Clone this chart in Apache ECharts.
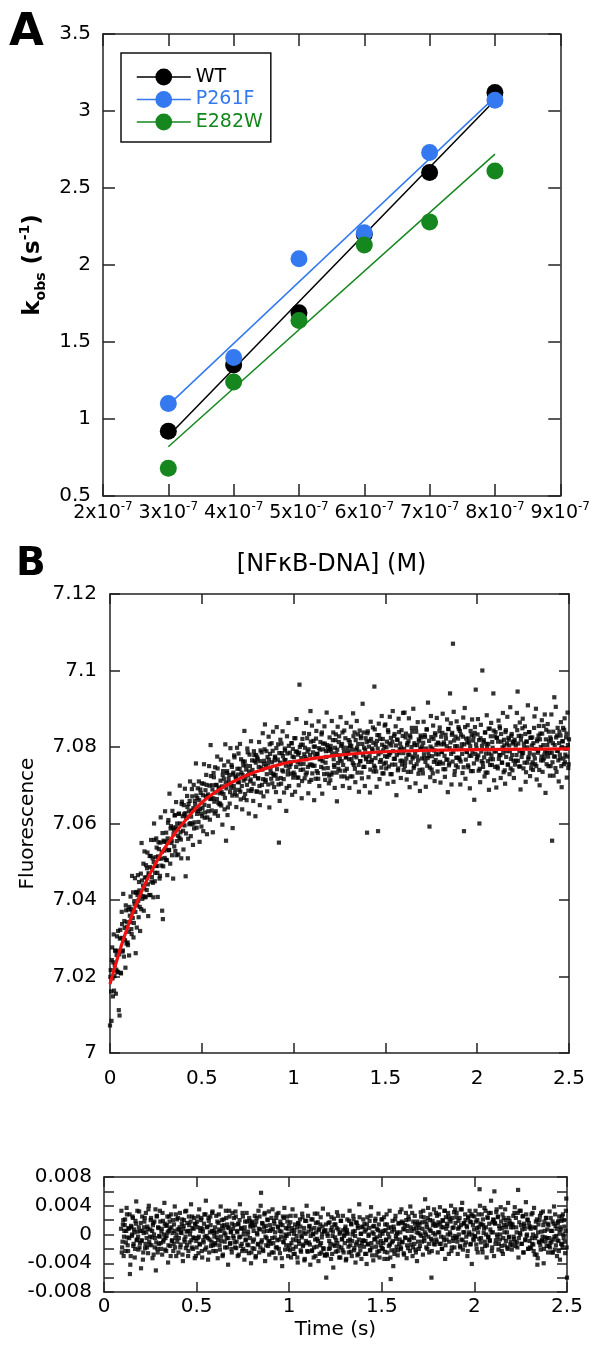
<!DOCTYPE html>
<html><head><meta charset="utf-8">
<script src="https://cdn.jsdelivr.net/npm/echarts@6/dist/echarts.min.js"></script>
<style>html,body{margin:0;padding:0;background:#fff}#c{width:593px;height:1345px}</style>
</head><body><div id="c"></div>
<script>
const FONT = 'DejaVu Sans';
const AX = '#222';
const BLUE = '#3479f0';
const GREEN = '#16871e';

// ---------- Panel A ----------
const concentrations = [3e-7, 4e-7, 5e-7, 6e-7, 7e-7, 8e-7];
const kobsWT    = [0.92, 1.35, 1.69, 2.20, 2.60, 3.12];
const kobsP261F = [1.10, 1.40, 2.04, 2.21, 2.73, 3.07];
const kobsE282W = [0.68, 1.24, 1.64, 2.13, 2.28, 2.61];
const fitConc   = [3e-7, 8e-7];
const fitWT     = [0.89, 3.07];
const fitP261F  = [1.09, 3.09];
const fitE282W  = [0.82, 2.72];

// ---------- Panel B : samples every SAMPLE_DT s from t = 0 ----------
const SAMPLE_DT = 0.004;
const fluorescence = [
7.0072,7.0217,7.0084,7.0276,7.0148,7.0310,7.0201,7.0268,7.0155,7.0256,7.0213,7.0319,7.0112,7.0098,7.0322,7.0208,7.0369,7.0265,7.0416,7.0252,7.0327,7.0223,7.0373,7.0329,7.0289,
7.0375,7.0255,7.0359,7.0409,7.0324,7.0463,7.0353,7.0302,7.0397,7.0457,7.0261,7.0421,7.0386,7.0465,7.0355,7.0425,7.0319,7.0469,7.0549,7.0403,7.0438,7.0372,7.0527,7.0407,7.0491,
7.0426,7.0524,7.0358,7.0466,7.0515,7.0413,7.0557,7.0460,7.0509,7.0407,7.0600,7.0449,7.0512,7.0561,7.0489,7.0408,7.0551,7.0509,7.0463,7.0616,7.0490,7.0372,7.0350,7.0555,7.0529,
7.0632,7.0505,7.0552,7.0465,7.0602,7.0530,7.0678,7.0495,7.0593,7.0555,7.0633,7.0456,7.0583,7.0621,7.0528,7.0656,7.0554,7.0586,7.0519,7.0626,7.0699,7.0577,7.0509,7.0657,7.0619,
7.0532,7.0624,7.0691,7.0462,7.0615,7.0672,7.0509,7.0651,7.0598,7.0710,7.0567,7.0634,7.0671,7.0544,7.0701,7.0603,7.0650,7.0757,7.0589,7.0666,7.0633,7.0710,7.0552,7.0689,7.0626,
7.0705,7.0640,7.0580,7.0755,7.0615,7.0687,7.0727,7.0572,7.0672,7.0632,7.0750,7.0610,7.0805,7.0665,7.0700,7.0577,7.0732,7.0657,7.0747,7.0632,7.0700,7.0775,7.0620,7.0690,7.0650,
7.0652,7.0767,7.0682,7.0597,7.0737,7.0717,7.0637,7.0807,7.0555,7.0732,7.0622,7.0762,7.0707,7.0652,7.0797,7.0693,7.0748,7.0588,7.0733,7.0778,7.0678,7.0723,7.0643,7.0798,7.0708,
7.0783,7.0688,7.0808,7.0663,7.0733,7.0637,7.0762,7.0712,7.0842,7.0677,7.0751,7.0661,7.0796,7.0726,7.0626,7.0780,7.0710,7.0815,7.0690,7.0740,7.0659,7.0789,7.0764,7.0619,7.0779,
7.0683,7.0768,7.0718,7.0813,7.0648,7.0791,7.0746,7.0701,7.0836,7.0671,7.0764,7.0859,7.0714,7.0789,7.0684,7.0757,7.0827,7.0642,7.0782,7.0732,7.0810,7.0705,7.0840,7.0725,7.0765,
7.0772,7.0682,7.0852,7.0717,7.0807,7.0550,7.0659,7.0819,7.0704,7.0784,7.0841,7.0736,7.0681,7.0796,7.0766,7.0633,7.0828,7.0728,7.0863,7.0698,7.0785,7.0755,7.0810,7.0675,7.0795,
7.0733,7.0823,7.0683,7.0788,7.0873,7.0720,7.0780,7.0700,7.0963,7.0755,7.0806,7.0666,7.0821,7.0741,7.0836,7.0718,7.0773,7.0863,7.0733,7.0788,7.0679,7.0834,7.0754,7.0894,7.0714,
7.0856,7.0751,7.0816,7.0661,7.0801,7.0717,7.0842,7.0782,7.0732,7.0867,7.0698,7.0793,7.0768,7.0833,7.0678,7.0809,7.0744,7.0854,7.0714,7.0789,7.0890,7.0730,7.0800,7.0705,7.0825,
7.0713,7.0793,7.0868,7.0733,7.0838,7.0753,7.0693,7.0818,7.0783,7.0658,7.0853,7.0743,7.0828,7.0768,7.0878,7.0723,7.0808,7.0698,7.0798,7.0843,7.0738,7.0773,7.0863,7.0718,7.0788,
7.0818,7.0693,7.0803,7.0853,7.0768,7.0723,7.0888,7.0753,7.0838,7.0708,7.0793,7.0868,7.0733,7.0808,7.0683,7.0843,7.0763,7.0828,7.0718,7.0913,7.0748,7.0798,7.0698,7.0823,7.0773,
7.0576,7.0841,7.0721,7.0816,7.0681,7.0866,7.0761,7.0796,7.0851,7.0736,7.0958,7.0746,7.0806,7.0696,7.0831,7.0580,7.0861,7.0716,7.0821,7.0766,7.0881,7.0731,7.0791,7.0756,7.0856,
7.0859,7.0744,7.0814,7.0704,7.0839,7.0779,7.0879,7.0729,7.0804,7.0754,7.0894,7.0709,7.0829,7.0769,7.0854,7.0674,7.0819,7.0739,7.0874,7.0784,7.0809,7.0719,7.0844,7.0764,7.0889,
7.0740,7.0890,7.0760,7.0835,7.0715,7.0810,7.0780,7.0875,7.0695,7.0825,7.0735,7.0850,7.0770,7.0900,7.0750,7.0805,7.0705,7.0840,7.0775,7.0865,7.0730,7.0815,7.0685,7.0830,7.0795,
7.0801,7.0731,7.0866,7.0771,7.0826,7.0696,7.0846,7.0751,7.0916,7.0776,7.0592,7.0721,7.0881,7.0741,7.0796,7.0856,7.0761,7.0711,7.0831,7.0781,7.0876,7.0736,7.0811,7.0756,7.0851,
7.0707,7.0827,7.0787,7.0887,7.0742,7.0807,7.0722,7.0832,7.0767,7.0872,7.0682,7.0847,7.0757,7.0940,7.0862,7.0702,7.0837,7.1070,7.0892,7.0727,7.0802,7.0752,7.0867,7.0772,7.0822,
7.0847,7.0767,7.0702,7.0832,7.0807,7.0732,7.0877,7.0580,7.0902,7.0717,7.0822,7.0787,7.0857,7.0747,7.0812,7.0692,7.0842,7.0777,7.0872,7.0737,7.0827,7.0662,7.0852,7.0950,7.0797,
7.0773,7.0873,7.0738,7.0600,7.0708,7.0858,7.0763,7.1000,7.0748,7.0818,7.0723,7.0838,7.0783,7.0883,7.0733,7.0808,7.0688,7.0848,7.0768,7.0863,7.0753,7.0798,7.0940,7.0713,7.0828,
7.0839,7.0694,7.0824,7.0744,7.0869,7.0779,7.0849,7.0719,7.0814,7.0759,7.0889,7.0734,7.0804,7.0704,7.0844,7.0789,7.0879,7.0754,7.0819,7.0729,7.0904,7.0769,7.0834,7.0739,7.0809,
7.0719,7.0819,7.0854,7.0764,7.0889,7.0945,7.0809,7.0749,7.0864,7.0689,7.0829,7.0784,7.0874,7.0744,7.0799,7.0854,7.0709,7.0814,7.0759,7.0909,7.0774,7.0839,7.0724,7.0824,7.0754,
7.0825,7.0740,7.0780,7.0880,7.0755,7.0900,7.0715,7.0820,7.0790,7.0855,7.0700,7.0835,7.0765,7.0870,7.0735,7.0805,7.0770,7.0885,7.0680,7.0845,7.0785,7.0860,7.0750,7.0815,7.0725,
7.0750,7.0885,7.0555,7.0810,7.0725,7.0930,7.0775,7.0905,7.0735,7.0830,7.0790,7.0710,7.0840,7.0770,7.0865,7.0695,7.0815,7.0850,7.0755,7.0875,7.0780,7.0825,7.0720,7.0890,7.0745,
7.0820
];
// samples half way between the ones above: t = (i + 0.5) * SAMPLE_DT
const fluorescenceMid = [
7.0199,7.0161,7.0243,7.0195,7.0237,7.0163,7.0230,7.0267,7.0218,7.0305,7.0211,7.0267,7.0258,7.0299,7.0210,7.0301,7.0337,7.0268,7.0299,7.0345,7.0295,7.0386,7.0286,7.0342,7.0282,
7.0317,7.0382,7.0342,7.0376,7.0311,7.0370,7.0420,7.0340,7.0389,7.0369,7.0419,7.0328,7.0413,7.0398,7.0447,7.0382,7.0417,7.0376,7.0451,7.0410,7.0495,7.0430,7.0459,7.0409,7.0459,
7.0483,7.0441,7.0470,7.0413,7.0486,7.0515,7.0448,7.0482,7.0445,7.0499,7.0557,7.0471,7.0489,7.0537,7.0471,7.0514,7.0533,7.0456,7.0550,7.0508,7.0526,7.0575,7.0488,7.0552,7.0510,
7.0533,7.0576,7.0504,7.0561,7.0609,7.0531,7.0554,7.0587,7.0549,7.0517,7.0589,7.0572,7.0540,7.0622,7.0590,7.0517,7.0600,7.0568,7.0625,7.0563,7.0600,7.0558,7.0651,7.0598,7.0581,
7.0648,7.0595,7.0627,7.0574,7.0616,7.0643,7.0560,7.0632,7.0659,7.0601,7.0618,7.0690,7.0598,7.0640,7.0587,7.0659,7.0636,7.0673,7.0625,7.0692,7.0604,7.0661,7.0638,7.0680,7.0592,
7.0619,7.0674,7.0704,7.0649,7.0629,7.0671,7.0701,7.0616,7.0676,7.0646,7.0699,7.0664,7.0724,7.0634,7.0689,7.0666,7.0721,7.0626,7.0681,7.0701,7.0664,7.0744,7.0654,7.0694,7.0679,
7.0712,7.0647,7.0697,7.0727,7.0677,7.0752,7.0667,7.0707,7.0692,7.0737,7.0642,7.0717,7.0727,7.0682,7.0702,7.0753,7.0673,7.0728,7.0698,7.0773,7.0688,7.0718,7.0673,7.0743,7.0728,
7.0708,7.0743,7.0683,7.0768,7.0698,7.0727,7.0752,7.0667,7.0762,7.0717,7.0741,7.0701,7.0786,7.0686,7.0736,7.0750,7.0715,7.0685,7.0765,7.0730,7.0704,7.0779,7.0724,7.0759,7.0684,
7.0773,7.0718,7.0748,7.0698,7.0763,7.0681,7.0786,7.0741,7.0716,7.0756,7.0794,7.0709,7.0749,7.0729,7.0774,7.0702,7.0767,7.0807,7.0742,7.0717,7.0760,7.0790,7.0730,7.0695,7.0775,
7.0727,7.0797,7.0742,7.0767,7.0702,7.0784,7.0759,7.0719,7.0809,7.0739,7.0776,7.0716,7.0766,7.0791,7.0751,7.0693,7.0783,7.0738,7.0803,7.0748,7.0760,7.0730,7.0810,7.0775,7.0720,
7.0773,7.0728,7.0823,7.0748,7.0788,7.0760,7.0720,7.0785,7.0800,7.0740,7.0771,7.0711,7.0806,7.0756,7.0781,7.0798,7.0728,7.0768,7.0823,7.0748,7.0794,7.0709,7.0779,7.0814,7.0754,
7.0731,7.0786,7.0801,7.0751,7.0776,7.0822,7.0737,7.0782,7.0717,7.0797,7.0768,7.0813,7.0748,7.0838,7.0763,7.0794,7.0729,7.0809,7.0759,7.0774,7.0805,7.0745,7.0790,7.0725,7.0795,
7.0803,7.0728,7.0783,7.0818,7.0768,7.0748,7.0798,7.0833,7.0733,7.0793,7.0758,7.0813,7.0778,7.0738,7.0803,7.0763,7.0838,7.0753,7.0788,7.0723,7.0823,7.0773,7.0743,7.0798,7.0783,
7.0768,7.0813,7.0723,7.0803,7.0793,7.0758,7.0828,7.0778,7.0743,7.0818,7.0773,7.0798,7.0833,7.0753,7.0788,7.0763,7.0823,7.0733,7.0808,7.0778,7.0838,7.0748,7.0793,7.0768,7.0813,
7.0836,7.0761,7.0801,7.0776,7.0741,7.0821,7.0766,7.0791,7.0811,7.0751,7.0846,7.0771,7.0736,7.0816,7.0796,7.0781,7.0831,7.0761,7.0786,7.0746,7.0806,7.0821,7.0731,7.0801,7.0776,
7.0759,7.0799,7.0774,7.0844,7.0749,7.0809,7.0784,7.0824,7.0729,7.0814,7.0789,7.0769,7.0834,7.0754,7.0804,7.0779,7.0819,7.0744,7.0839,7.0794,7.0764,7.0799,7.0754,7.0829,7.0784,
7.0795,7.0750,7.0825,7.0770,7.0805,7.0735,7.0815,7.0780,7.0830,7.0760,7.0800,7.0840,7.0775,7.0745,7.0810,7.0785,7.0850,7.0755,7.0805,7.0765,7.0820,7.0740,7.0795,7.0825,7.0770,
7.0741,7.0811,7.0781,7.0831,7.0761,7.0796,7.0846,7.0771,7.0786,7.0816,7.0746,7.0801,7.0826,7.0776,7.0731,7.0821,7.0791,7.0836,7.0766,7.0806,7.0756,7.0811,7.0781,7.0841,7.0761,
7.0807,7.0787,7.0837,7.0757,7.0812,7.0777,7.0742,7.0822,7.0802,7.0767,7.0847,7.0752,7.0797,7.0812,7.0782,7.0832,7.0762,7.0787,7.0817,7.0737,7.0827,7.0772,7.0802,7.0747,7.0852,
7.0772,7.0842,7.0762,7.0797,7.0782,7.0827,7.0747,7.0807,7.0852,7.0767,7.0787,7.0812,7.0752,7.0822,7.0777,7.0802,7.0737,7.0832,7.0787,7.0817,7.0757,7.0837,7.0782,7.0807,7.0767,
7.0833,7.0778,7.0818,7.0743,7.0823,7.0788,7.0803,7.0758,7.0813,7.0773,7.0838,7.0733,7.0808,7.0798,7.0763,7.0848,7.0783,7.0753,7.0828,7.0778,7.0813,7.0768,7.0843,7.0788,7.0748,
7.0789,7.0824,7.0749,7.0814,7.0769,7.0854,7.0779,7.0834,7.0759,7.0799,7.0784,7.0819,7.0739,7.0839,7.0774,7.0809,7.0754,7.0824,7.0804,7.0789,7.0744,7.0829,7.0779,7.0814,7.0764,
7.0814,7.0754,7.0804,7.0779,7.0844,7.0764,7.0829,7.0789,7.0749,7.0819,7.0774,7.0849,7.0784,7.0809,7.0759,7.0834,7.0734,7.0814,7.0799,7.0769,7.0839,7.0784,7.0824,7.0744,7.0804,
7.0760,7.0810,7.0850,7.0770,7.0795,7.0750,7.0815,7.0785,7.0830,7.0740,7.0820,7.0800,7.0775,7.0835,7.0765,7.0855,7.0780,7.0790,7.0820,7.0755,7.0805,7.0775,7.0840,7.0785,7.0825,
7.0820,7.0785,7.0760,7.0840,7.0775,7.0805,7.0745,7.0825,7.0790,7.0850,7.0765,7.0810,7.0780,7.0830,7.0750,7.0800,7.0815,7.0770,7.0845,7.0760,7.0795,7.0835,7.0775,7.0805,7.0755
];
// red fitted curve
const fitTime  = [0, 0.05, 0.1, 0.15, 0.2, 0.25, 0.3, 0.35, 0.4, 0.5, 0.6, 0.7, 0.8, 0.9, 1.0, 1.2, 1.4, 1.7, 2.0, 2.5];
const fitFluor = [7.018, 7.0263, 7.0335, 7.0397, 7.0451, 7.0497, 7.0537, 7.0572, 7.0602, 7.0655, 7.069, 7.0716, 7.0736, 7.0751, 7.0762, 7.0776, 7.0785, 7.0791, 7.0793, 7.0795];

// ---------- Residuals: same sampling, starting at sample RESID_START ----------
const RESID_START = 23;
const residuals = [
0.0008,-0.0025,
-0.001,0.002,-0.0003,0.0013,-0.0023,0.0005,0.0028,-0.0015,0.0008,-0.0005,-0.0055,-0.003,0.001,0,0.0023,-0.0013,0.0003,-0.002,0.0015,-0.0008,0.0033,-0.0003,0.001,-0.0018,0.0005,
-0.0047,-0.0008,0.0005,-0.0025,0.001,0.0023,-0.0013,0.0003,-0.0018,0.0008,0.0035,-0.001,-0.0003,0.002,-0.0015,0.0005,0.0013,-0.0028,0.0018,-0.0005,-0.005,0.0025,-0.002,0.001,-0.0013,
-0.0003,0.0018,-0.002,0.0008,0.003,-0.001,0,0.0015,-0.0005,-0.0023,0.0013,0.0003,-0.0015,0.0025,0.0008,-0.003,0.001,-0.0008,0.002,-0.0013,0.0005,-0.0018,0.0028,0,-0.001,
0.0023,-0.0005,0.001,-0.0018,0.0003,0.0015,-0.0028,0.0008,0.002,-0.001,-0.0003,0.0033,-0.0015,0.0005,-0.0023,0.0013,0,0.0018,-0.0008,0.0025,-0.002,0.0008,-0.0005,0.0015,-0.003,
-0.0018,0.001,0.0025,-0.0003,-0.0013,0.0005,0.002,-0.0023,0.0008,-0.0008,0.0015,-0.0003,0.0028,-0.0018,0.001,-0.0005,0.0023,-0.0025,0.0003,0.0013,-0.001,0.003,-0.0015,0.0005,-0.0003,
0.001,-0.0023,0.0003,0.0018,-0.0008,0.0028,-0.0015,0.0005,-0.0003,0.002,-0.003,0.0008,0.0013,-0.001,0,0.0023,-0.0018,0.001,-0.0005,0.0033,-0.0013,0.0003,-0.002,0.0015,0.0008,
-0.0005,0.0013,-0.0018,0.0025,-0.001,0.0003,0.0015,-0.0028,0.002,-0.0003,0.0008,-0.0013,0.003,-0.002,0.0005,0.001,-0.0008,-0.0023,0.0018,0,-0.0015,0.0023,-0.0005,0.0013,-0.0025,
0.0018,-0.001,0.0005,-0.002,0.0013,-0.003,0.0023,0,-0.0013,0.0008,0.0025,-0.0018,0.0058,-0.0008,0.0015,-0.0023,0.001,0.003,-0.0003,-0.0015,0.0005,0.002,-0.001,-0.0028,0.0013,
-0.0013,0.0023,-0.0005,0.0008,-0.0025,0.0015,0.0003,-0.0018,0.0028,-0.0008,0.001,-0.002,0.0005,0.0018,-0.0003,-0.0033,0.0013,-0.001,0.0023,-0.0005,0,-0.0015,0.0025,0.0008,-0.002,
0.0001,-0.0022,0.0026,-0.0012,0.0009,-0.0007,-0.0027,0.0006,0.0014,-0.0017,-0.0002,-0.0032,0.0016,-0.0009,0.0004,0.0011,-0.0024,-0.0004,0.0024,-0.0014,0.0009,-0.0034,0.0001,0.0019,-0.0012,
-0.0024,0.0004,0.0011,-0.0014,-0.0002,0.0021,-0.0022,0.0001,-0.0032,0.0009,-0.0007,0.0016,-0.0017,0.0029,-0.0009,0.0006,-0.0027,0.0014,-0.0012,-0.0004,0.0011,-0.0019,0.0004,-0.0029,0.0006,
-0.006,-0.0029,-0.0002,0.0016,-0.0009,-0.0019,0.0006,0.0024,-0.0027,0.0004,-0.0014,0.0014,-0.0004,-0.0024,0.0009,-0.0012,0.0026,-0.0017,0.0001,-0.0032,0.0019,-0.0007,-0.0022,0.0006,-0.0002,
-0.0012,0.0011,-0.0034,0.0006,0.0001,-0.0017,0.0019,-0.0007,-0.0024,0.0014,-0.0009,0.0004,0.0021,-0.0019,-0.0002,-0.0014,0.0016,-0.0029,0.0009,-0.0007,0.0024,-0.0022,0.0001,-0.0012,0.0011,
0.0021,-0.0017,0.0004,-0.0009,-0.0027,0.0014,-0.0014,-0.0002,0.0009,-0.0022,0.0026,-0.0012,-0.0029,0.0011,0.0001,-0.0007,0.0019,-0.0017,-0.0004,-0.0024,0.0006,0.0014,-0.0032,0.0004,-0.0009,
-0.0019,0.0001,-0.0012,0.0024,-0.0024,0.0006,-0.0007,0.0014,-0.0034,0.0009,-0.0004,-0.0014,-0.0062,-0.0022,0.0004,-0.0009,0.0011,-0.0027,0.0021,-0.0002,-0.0017,0.0001,-0.0022,0.0016,-0.0007,
0.0003,-0.002,0.0018,-0.001,0.0008,-0.0028,0.0013,-0.0005,0.002,-0.0015,0.0005,0.0025,-0.0008,-0.0023,0.001,-0.0003,0.003,-0.0018,0.0008,-0.0013,0.0015,-0.0025,0.0003,0.0018,-0.001,
-0.002,0.0015,0,0.0025,-0.001,0.0008,0.0033,-0.0005,0.0003,0.0018,-0.0018,0.001,0.0023,-0.0003,-0.0025,0.002,0.0005,-0.006,-0.0008,0.0013,-0.0013,0.0015,0,0.003,-0.001,
0.0013,0.0003,0.0028,-0.0013,0.0015,-0.0003,-0.002,0.002,0.001,-0.0008,0.0033,-0.0015,0.0008,0.0015,0,0.0025,-0.001,0.0003,0.0018,-0.0023,0.0023,-0.0005,0.001,-0.0018,0.0035,
-0.0005,0.003,-0.001,0.0008,0,0.0023,-0.0018,0.0013,0.0035,-0.0008,0.0003,0.0015,-0.0015,0.002,-0.0003,0.001,-0.0023,0.0025,0.0003,0.0018,-0.0013,0.0028,0,0.0013,-0.0008,
0.0025,-0.0003,0.0018,-0.002,0.002,0.0003,0.001,0.0063,0.0015,-0.0005,0.0028,-0.0025,0.0013,0.0008,-0.001,0.0033,0,-0.0015,0.0023,-0.0003,0.0015,-0.0008,0.003,0.0003,-0.0018,
0.0003,0.002,0.006,0.0015,-0.0008,0.0035,-0.0003,0.0025,-0.0013,0.0008,0,0.0018,-0.0023,0.0028,-0.0005,0.0013,-0.0015,0.002,0.001,0.0003,-0.002,0.0023,-0.0003,0.0015,-0.001,
0.0015,-0.0015,0.001,-0.0003,0.003,-0.001,0.0023,0.0003,-0.0018,0.0062,-0.0005,0.0033,0,0.0013,-0.0013,0.0025,-0.0025,0.0015,0.0008,-0.0008,0.0028,0,0.002,-0.002,0.001,
-0.0018,0.0008,0.0028,-0.0013,0,-0.0023,0.001,-0.0005,0.0018,-0.0028,-0.0042,0.0003,-0.001,0.002,-0.0015,0.003,-0.0008,-0.0003,0.0013,-0.002,0.0005,-0.001,0.0023,-0.0005,0.0015,
0.0013,-0.0005,-0.0018,0.0023,-0.001,0.0005,-0.0025,0.0015,-0.0003,0.0028,-0.0015,0.0008,-0.0008,0.0018,-0.0023,0.0003,0.001,-0.0013,0.0025,-0.0018,0,0.002,-0.001,0.0005,0.005,
-0.006
];
// residual samples half way between the ones above
const residualsMid = [
0.0033,-0.0018,
0.0014,-0.003,0.0005,0.0021,-0.0011,0.0037,-0.0004,-0.0023,0.0009,0.0028,-0.0042,0.0012,-0.0002,0.0025,-0.0016,0.0007,-0.0032,0.0019,0.0046,-0.0007,0.0004,-0.0021,0.0032,-0.0012,0.0016,
-0.0009,0.0025,-0.0035,0.0002,0.0018,-0.0019,0.003,-0.0005,0.0011,-0.0026,0.004,-0.0014,0.0007,0.0023,-0.0004,-0.0033,0.0016,0,-0.0018,0.0035,-0.0011,0.0026,-0.0025,0.0009,-0.0002,
0.0033,-0.0012,0.0004,-0.0028,0.0019,-0.0007,0.0044,-0.0021,0.0012,-0.0002,0.0025,-0.0039,0.0005,0.0018,-0.0016,0.0028,-0.0009,0.0002,-0.0023,0.0014,0.0039,-0.0005,-0.003,0.0021,0.0007,
-0.0025,0.0007,0.003,-0.0014,0.0002,0.0021,-0.0037,0.0012,-0.0007,0.0032,-0.0019,0.0004,0.0016,-0.003,0.0025,-0.0011,0.0005,0.0042,-0.0018,0.0009,-0.0004,0.0023,-0.0033,0.0014,-0.0009,
0.0018,-0.0005,-0.0026,0.0035,-0.0014,0.0009,0.0023,-0.0032,0.0004,-0.0011,0.0028,-0.0021,0.0047,-0.0002,0.0011,-0.0035,0.0019,-0.0007,0.0025,-0.0016,0.0005,0.0032,-0.0023,0.0002,-0.0012,
-0.0014,0.0026,-0.0004,-0.0033,0.0016,0.0007,-0.0021,0.0039,-0.0009,0.0012,-0.0028,0.0021,0.0002,-0.0018,0.0033,-0.0005,0.0014,-0.0042,0.0009,0.0025,-0.0012,0.0004,-0.0025,0.003,-0.0002,
0.0023,-0.0011,0.0032,-0.0019,0.0005,-0.003,0.0014,-0.0004,0.0042,-0.0016,0.0009,-0.0023,0.0025,0,-0.0035,0.0018,-0.0007,0.003,-0.0014,0.0004,-0.0026,0.0019,0.0011,-0.004,0.0016,
-0.0019,0.0011,-0.0007,0.0026,-0.0032,0.0018,0.0002,-0.0014,0.0033,-0.0025,0.0007,0.004,-0.0011,0.0016,-0.0021,0.0004,0.0028,-0.0037,0.0012,-0.0005,0.0021,-0.0016,0.0032,-0.0009,0.0005,
0.0007,-0.0025,0.0035,-0.0012,0.0019,-0.0004,-0.0033,0.0023,-0.0018,0.0011,0.003,-0.0007,-0.0026,0.0014,0.0004,-0.0044,0.0025,-0.0011,0.0037,-0.0021,0.0009,-0.0002,0.0018,-0.003,0.0012,
-0.0015,0.0017,-0.0032,0.0005,0.0035,-0.002,0.0001,-0.0027,0.0026,-0.0008,0.001,-0.0039,0.0015,-0.0013,0.0021,-0.0022,-0.0002,0.0029,-0.0016,0.0003,-0.0036,0.0019,-0.0009,0.004,-0.0023,
0.0026,-0.0011,0.0012,-0.0042,0.0007,-0.0023,0.0021,0,-0.0018,0.0029,-0.003,0.0003,-0.0006,0.0017,-0.0037,0.0008,-0.0015,0.0024,-0.0025,0.0001,0.0036,-0.002,0.0005,-0.0029,0.0014,
-0.0027,0.0001,0.0028,-0.002,0.0017,-0.0013,-0.0034,0.001,-0.0002,-0.0046,0.0022,-0.0016,0.0014,-0.0008,0.0031,-0.0023,0.0007,-0.0032,0.0003,0.0019,-0.0018,-0.0006,0.0026,-0.0025,0,
0.0008,-0.0036,0.0003,0.0021,-0.0009,-0.0025,0.0033,-0.0015,0.0015,-0.003,0,0.0026,-0.0022,0.0005,-0.0039,0.0017,-0.0011,0.0012,-0.0027,0.0042,-0.0016,0.0001,-0.0034,0.001,-0.0008,
-0.0009,0.0015,-0.0027,0.0007,-0.0041,0.0024,-0.0013,0,0.0019,-0.0022,0.0038,-0.0018,0.0003,-0.0036,0.0012,-0.0006,0.0022,-0.0029,0.0008,-0.0011,0.0029,-0.0023,-0.0002,-0.0015,0.0021,
0.0021,-0.002,0.0005,-0.0034,0.0014,-0.0008,0.0028,-0.0025,0.0001,-0.0016,0.0033,-0.0032,0.001,-0.0011,0.0019,-0.0044,0.0007,-0.0022,0.0026,-0.0006,0.0003,-0.0029,0.0015,-0.0013,0.0031,
-0.0018,0.0035,-0.0011,0.0016,-0.0026,0.0007,-0.0004,0.003,-0.0033,0.0012,-0.0019,0.0021,-0.0007,0.0039,-0.0014,0.0005,-0.003,0.0018,-0.0005,0.0026,-0.0021,0.0009,-0.0037,0.0014,0.0002,
0.0009,-0.0016,0.0031,-0.0002,0.0017,-0.0028,0.0024,-0.0009,0.0049,0,0.0014,-0.002,0.0037,-0.0013,0.0007,0.0028,-0.0006,-0.0023,0.0019,0.0002,0.0035,-0.0014,0.0012,-0.0007,0.0026,
-0.0025,0.0017,0.0003,0.0038,-0.0013,0.001,-0.002,0.0019,-0.0004,0.0033,-0.0034,0.0024,-0.0007,0.0012,0.003,-0.0027,0.0021,0,0.004,-0.0018,0.0009,-0.0009,0.0031,-0.0002,0.0016,
0.0024,-0.0004,-0.0027,0.0019,0.001,-0.0016,0.0035,-0.0007,0.0044,-0.0021,0.0016,0.0003,0.0028,-0.0011,0.0012,-0.003,0.0023,0,0.0033,-0.0014,0.0017,-0.0041,0.0026,-0.0006,0.0007,
-0.0002,0.0033,-0.0014,0.0009,-0.0025,0.0028,-0.0006,0.004,-0.0011,0.0014,-0.002,0.0021,0.0002,0.0037,-0.0016,0.001,-0.0032,0.0024,-0.0004,0.003,-0.0009,0.0007,0.0047,-0.0023,0.0017,
0.0021,-0.003,0.0016,-0.0013,0.0031,0,0.0024,-0.0021,0.0012,-0.0007,0.0038,-0.0016,0.0009,-0.0027,0.0023,0.0003,0.0035,-0.0009,0.0014,-0.0018,0.0044,-0.0004,0.0019,-0.0014,0.001,
-0.0021,0.0014,0.0026,-0.0006,0.0038,-0.0016,0.001,-0.0011,0.003,-0.0032,0.0017,0.0002,0.0033,-0.0013,0.0007,0.0026,-0.0025,0.0012,-0.0007,0.0045,-0.0002,0.0021,-0.002,0.0016,-0.0009,
0.0011,-0.0019,-0.0005,0.003,-0.0014,0.0037,-0.0028,0.0009,-0.0002,0.0021,-0.0033,0.0014,-0.0011,0.0026,-0.0021,0.0004,-0.0009,0.0032,-0.004,0.0018,-0.0004,0.0023,-0.0016,0.0007,-0.0025,
-0.0016,0.0032,-0.0012,0.0005,-0.0025,0.0018,-0.0007,0.0039,-0.0021,0.0012,-0.0002,-0.003,0.0016,-0.0009,0.0025,-0.0035,0.0007,0.0019,-0.0014,0.0028,-0.0005,0.0011,-0.0026,0.0033,-0.0018
];

const tAt = k => +(k * SAMPLE_DT).toFixed(4);
const fluorPoints = fluorescence.map((v, i) => [tAt(i), v])
  .concat(fluorescenceMid.map((v, i) => [tAt(i + 0.5), v]));
const residPoints = residuals.map((v, i) => [tAt(i + RESID_START), v])
  .concat(residualsMid.map((v, i) => [tAt(i + RESID_START + 0.5), v]));
const fitPoints = fitTime.map((t, i) => [t, fitFluor[i]]);
const pairs = (xs, ys) => xs.map((x, i) => [x, ys[i]]);

const txt = (size, extra) => Object.assign({fontFamily: FONT, fontSize: size, color: '#000'}, extra || {});

function ax(grid, pos, min, max, interval, tickLen, label, name) {
  const a = {
    gridIndex: grid, type: 'value', position: pos, min, max, interval,
    axisLine: {show: true, onZero: false, lineStyle: {color: AX, width: 1.5}},
    axisTick: {show: true, inside: true, length: tickLen, lineStyle: {color: AX, width: 1.5}},
    splitLine: {show: false},
    axisLabel: label ? label : {show: false}
  };
  if (name) Object.assign(a, name);
  return a;
}

const option = {
  animation: false,
  backgroundColor: '#fff',
  title: [
    {text: 'A', left: 9, top: 11, padding: 0, textStyle: txt(45, {fontWeight: 'bold'})},
    {text: 'B', left: 16, top: 545, padding: 0, textStyle: txt(39, {fontWeight: 'bold'})}
  ],
  legend: {
    left: 121, top: 53, orient: 'vertical', selectedMode: false,
    data: [
      {name: 'WT', textStyle: {color: '#000'}},
      {name: 'P261F', textStyle: {color: BLUE}},
      {name: 'E282W', textStyle: {color: GREEN}}
    ],
    itemWidth: 54, itemHeight: 21, itemGap: 0.5,
    padding: [13, 8, 9, 15],
    borderColor: '#111', borderWidth: 1.5,
    textStyle: txt(19, {lineHeight: 22}),
    lineStyle: {width: 1.5, opacity: 1}
  },
  grid: [
    {left: 103, top: 34, width: 462, height: 462},
    {left: 110, top: 594, width: 459, height: 459},
    {left: 104, top: 1177, width: 463, height: 115}
  ],
  xAxis: [
    ax(0, 'bottom', 2e-7, 9e-7, 1e-7, 12, {
      margin: 5,
      formatter: v => '{m|' + Math.round(v * 1e7) + 'x10}{s|-7}',
      rich: {m: txt(19, {lineHeight: 24}), s: txt(12, {lineHeight: 12, verticalAlign: 'top'})}
    }, {name: '[NFκB-DNA] (M)', nameLocation: 'middle', nameGap: 57, nameTextStyle: txt(24)}),
    ax(0, 'top', 2e-7, 9e-7, 1e-7, 12, null),
    ax(1, 'bottom', 0, 2.5, 0.5, 10, {margin: 16, ...txt(20)}),
    ax(1, 'top', 0, 2.5, 0.5, 10, null),
    ax(2, 'bottom', 0, 2.5, 0.5, 10, {margin: 5, ...txt(20)},
      {name: 'Time (s)', nameLocation: 'middle', nameGap: 28, nameTextStyle: txt(20)}),
    ax(2, 'top', 0, 2.5, 0.5, 10, null)
  ],
  yAxis: [
    ax(0, 'left', 0.5, 3.5, 0.5, 12, {margin: 12, ...txt(20)}, {
      name: '{k|k}{sub|obs}{p| (s}{sup|-1}{p|)}', nameLocation: 'middle', nameGap: 41,
      nameTextStyle: {rich: {
        k: txt(23, {fontWeight: 'bold', lineHeight: 30}),
        p: txt(23, {fontWeight: 'bold', lineHeight: 30}),
        sub: txt(14, {fontWeight: 'bold', lineHeight: 14, verticalAlign: 'bottom'}),
        sup: txt(14, {fontWeight: 'bold', lineHeight: 14, verticalAlign: 'top'})
      }}
    }),
    ax(0, 'right', 0.5, 3.5, 0.5, 12, null),
    ax(1, 'left', 7, 7.12, 0.02, 10, {margin: 13, ...txt(20)},
      {name: 'Fluorescence', nameLocation: 'middle', nameGap: 72, nameTextStyle: txt(20)}),
    ax(1, 'right', 7, 7.12, 0.02, 10, null),
    ax(2, 'left', -0.008, 0.008, 0.002, 10, {margin: 12, ...txt(20),
      formatter: v => { const k = Math.round(v / 0.002); if (k % 2 !== 0) return ''; return k === 0 ? '0' : (k * 0.002).toFixed(3); }}),
    ax(2, 'right', -0.008, 0.008, 0.002, 10, null)
  ],
  series: [
    {name: 'WT', type: 'line', xAxisIndex: 0, yAxisIndex: 0, data: pairs(concentrations, kobsWT),
     symbol: 'circle', symbolSize: 17, itemStyle: {color: '#000'}, lineStyle: {color: '#000', width: 0}, z: 3},
    {name: 'P261F', type: 'line', xAxisIndex: 0, yAxisIndex: 0, data: pairs(concentrations, kobsP261F),
     symbol: 'circle', symbolSize: 17, itemStyle: {color: BLUE}, lineStyle: {color: BLUE, width: 0}, z: 4},
    {name: 'E282W', type: 'line', xAxisIndex: 0, yAxisIndex: 0, data: pairs(concentrations, kobsE282W),
     symbol: 'circle', symbolSize: 17, itemStyle: {color: GREEN}, lineStyle: {color: GREEN, width: 0}, z: 5},
    {type: 'line', xAxisIndex: 0, yAxisIndex: 0, data: pairs(fitConc, fitWT), symbol: 'none', lineStyle: {color: '#000', width: 1.5}, z: 2},
    {type: 'line', xAxisIndex: 0, yAxisIndex: 0, data: pairs(fitConc, fitP261F), symbol: 'none', lineStyle: {color: BLUE, width: 1.5}, z: 2},
    {type: 'line', xAxisIndex: 0, yAxisIndex: 0, data: pairs(fitConc, fitE282W), symbol: 'none', lineStyle: {color: GREEN, width: 1.5}, z: 2},
    {type: 'scatter', xAxisIndex: 2, yAxisIndex: 2, data: fluorPoints, symbol: 'rect', symbolSize: 4.2, itemStyle: {color: '#000'}, z: 2},
    {type: 'line', xAxisIndex: 2, yAxisIndex: 2, data: fitPoints, smooth: true, symbol: 'none', lineStyle: {color: '#f01010', width: 3.2}, z: 3},
    {type: 'scatter', xAxisIndex: 4, yAxisIndex: 4, data: residPoints, symbol: 'rect', symbolSize: 4.2, itemStyle: {color: '#000'}, z: 2}
  ]
};
const chart = echarts.init(document.getElementById('c'), null, {renderer: 'canvas'});
chart.setOption(option);
</script>
</body></html>
